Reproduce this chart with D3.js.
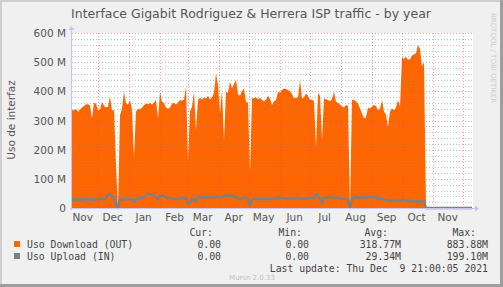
<!DOCTYPE html>
<html>
<head>
<meta charset="utf-8">
<script src="https://cdn.jsdelivr.net/npm/d3@7"></script>
<style>
  body { margin: 0; background: #f0f0f0; }
  svg text { white-space: pre; }
</style>
</head>
<body>
<div id="chart"></div>
<script>
// time span of the yearly graph (400 days, one sample every 2 days)
const startTime = Date.UTC(2020, 10, 4, 21);
const endTime = Date.UTC(2021, 11, 9, 21);
const stepDays = 2;

// Uso Download (OUT), in M
const download = [
  335, 335, 340, 330, 338, 345, 350, 356, 356, 352,
  307, 360, 358, 335, 338, 364, 350, 345, 347, 382,
  335, 335, 150, 0, 318, 340, 399, 358, 355, 370,
  335, 175, 330, 341, 338, 345, 352, 358, 356, 360,
  355, 362, 370, 307, 399, 364, 360, 345, 340, 345,
  358, 360, 355, 362, 370, 368, 372, 416, 163, 330,
  347, 399, 267, 370, 378, 372, 380, 375, 385, 372,
  380, 395, 462, 422, 324, 405, 232, 399, 395, 433,
  410, 425, 439, 390, 385, 400, 410, 364, 360, 117,
  376, 376, 380, 372, 378, 370, 365, 372, 385, 375,
  353, 365, 370, 399, 395, 405, 410, 408, 405, 400,
  390, 376, 378, 380, 439, 376, 380, 393, 385, 370,
  372, 365, 209, 393, 385, 232, 376, 372, 370, 365,
  375, 399, 364, 360, 355, 347, 345, 353, 350, 0,
  370, 370, 365, 358, 340, 324, 307, 310, 345, 341,
  347, 353, 350, 335, 340, 370, 330, 320, 278, 330,
  341, 335, 345, 370, 347, 515, 512, 518, 508, 510,
  522, 528, 530, 560, 545, 485, 500, 0, 0, 0,
  0, 0, 0, 0, 0, 0, 0, 0, 0, 0,
  0, 0, 0, 0, 0, 0, 0, 0, 0, 0
];

// Uso Upload (IN), in M
const upload = [
  30, 29, 31, 28, 30, 32, 30, 29, 31, 28,
  30, 31, 29, 30, 32, 31, 30, 35, 45, 47,
  40, 33, 10, 0, 28, 30, 29, 31, 30, 30,
  29, 20, 30, 31, 33, 35, 38, 45, 48, 47,
  46, 44, 38, 30, 40, 43, 41, 38, 33, 34,
  31, 30, 31, 32, 33, 34, 33, 35, 14, 18,
  30, 31, 20, 36, 37, 38, 37, 36, 38, 37,
  37, 36, 38, 39, 37, 36, 42, 43, 42, 41,
  42, 40, 38, 30, 31, 33, 35, 32, 30, 8,
  28, 31, 31, 30, 32, 31, 30, 31, 32, 31,
  30, 32, 35, 36, 35, 34, 33, 32, 31, 33,
  32, 31, 34, 33, 35, 32, 30, 31, 33, 35,
  34, 33, 47, 48, 30, 17, 35, 34, 37, 38,
  38, 36, 35, 34, 33, 33, 32, 31, 28, 0,
  30, 36, 37, 37, 36, 37, 36, 35, 37, 37,
  38, 37, 36, 33, 31, 30, 30, 27, 26, 25,
  25, 24, 26, 25, 24, 27, 28, 26, 24, 23,
  24, 23, 22, 24, 23, 22, 22, 0, 0, 0,
  0, 0, 0, 0, 0, 0, 0, 0, 0, 0,
  0, 0, 0, 0, 0, 0, 0, 0, 0, 0
];

const yMajor = [0, 100, 200, 300, 400, 500, 600];
const yMinor = [20, 40, 60, 80, 120, 140, 160, 180, 220, 240, 260, 280,
                320, 340, 360, 380, 420, 440, 460, 480, 520, 540, 560, 580];

const seriesNames = ["Uso Download (OUT)", "Uso Upload (IN)"];
const curValues = ["0.00", "0.00"];
const minValues = ["0.00", "0.00"];
const avgValues = ["318.77M", "29.34M"];
const maxValues = ["883.88M", "199.10M"];
const lastUpdate = "Last update: Thu Dec  9 21:00:05 2021";

const width = 503, height = 287;
const pLeft = 72, pRight = 472, pTop = 33, pBottom = 208;
const colors = ["#ff6600", "#7f7f7f"];
const day = 86400000;

const x = d3.scaleUtc().domain([startTime, endTime]).range([pLeft, pRight]);
const y = d3.scaleLinear().domain([0, 600]).range([pBottom, pTop]);

const dlPts = download.map((v, i) => [startTime + i * stepDays * day, v]);
dlPts.push([endTime, 0]);
const ulPts = upload.map((v, i) => [startTime + i * stepDays * day, v]);
ulPts.push([endTime, 0]);

const svg = d3.select("#chart").append("svg")
  .attr("width", width)
  .attr("height", height)
  .style("display", "block");

// canvas and frame
svg.append("rect").attr("width", width).attr("height", height).attr("fill", "#f0f0f0");
svg.append("rect").attr("x", 0).attr("y", 0).attr("width", width).attr("height", 2).attr("fill", "#cfcfcf");
svg.append("rect").attr("x", 0).attr("y", 0).attr("width", 2).attr("height", height).attr("fill", "#cfcfcf");
svg.append("rect").attr("x", width - 3).attr("y", 0).attr("width", 3).attr("height", height).attr("fill", "#9e9e9e");
svg.append("rect").attr("x", 0).attr("y", height - 3).attr("width", width).attr("height", 3).attr("fill", "#9e9e9e");

svg.append("rect")
  .attr("x", pLeft).attr("y", pTop)
  .attr("width", pRight - pLeft + 1).attr("height", pBottom - pTop)
  .attr("fill", "#fff");

// data
svg.append("path")
  .datum(dlPts)
  .attr("fill", colors[0])
  .attr("d", d3.area().x(d => x(d[0])).y0(y(0)).y1(d => y(d[1])));

// grid (drawn over the data like rrdtool does)
const grid = svg.append("g").attr("shape-rendering", "crispEdges");
grid.selectAll(".minor").data(yMinor).join("line")
  .attr("x1", pLeft).attr("x2", pRight + 1)
  .attr("y1", d => Math.round(y(d)) + 0.5).attr("y2", d => Math.round(y(d)) + 0.5)
  .attr("stroke", "rgba(130,130,130,0.45)")
  .attr("stroke-dasharray", "1,2");
grid.selectAll(".major").data(yMajor.slice(1)).join("line")
  .attr("x1", pLeft).attr("x2", pRight + 1)
  .attr("y1", d => Math.round(y(d)) + 0.5).attr("y2", d => Math.round(y(d)) + 0.5)
  .attr("stroke", "rgba(235,70,70,0.5)")
  .attr("stroke-dasharray", "1,2");

const months = d3.utcMonth.range(startTime, endTime);
grid.selectAll(".vgrid").data(months).join("line")
  .attr("x1", d => Math.round(x(d)) + 0.5).attr("x2", d => Math.round(x(d)) + 0.5)
  .attr("y1", pTop).attr("y2", pBottom + 2)
  .attr("stroke", "rgba(235,70,70,0.5)")
  .attr("stroke-dasharray", "1,2");

svg.append("path")
  .datum(ulPts)
  .attr("fill", "none")
  .attr("stroke", colors[1])
  .attr("stroke-width", 2.5)
  .attr("stroke-linejoin", "round")
  .attr("d", d3.line().x(d => x(d[0])).y(d => y(d[1])));

// axes
const axisColor = "#c4c4f2";
svg.append("line").attr("x1", pLeft - 0.5).attr("x2", pLeft - 0.5)
  .attr("y1", pBottom + 2).attr("y2", pTop - 5).attr("stroke", axisColor);
svg.append("path").attr("d", `M${pLeft - 3.5},${pTop - 3} L${pLeft - 0.5},${pTop - 7} L${pLeft + 2.5},${pTop - 3} Z`)
  .attr("fill", axisColor);
svg.append("line").attr("x1", pLeft - 2).attr("x2", pRight + 3)
  .attr("y1", pBottom + 0.5).attr("y2", pBottom + 0.5).attr("stroke", axisColor);
svg.append("path").attr("d", `M${pRight + 3},${pBottom - 2.5} L${pRight + 7},${pBottom + 0.5} L${pRight + 3},${pBottom + 3.5} Z`)
  .attr("fill", axisColor);

const font = "DejaVu Sans, sans-serif";
const mono = "DejaVu Sans Mono, monospace";
const textColor = "#555";

svg.selectAll(".ylab").data(yMajor).join("text")
  .attr("x", 66).attr("y", d => y(d) + 4)
  .attr("text-anchor", "end")
  .attr("font-family", font).attr("font-size", 10.5)
  .attr("fill", textColor)
  .text(d => d === 0 ? "0" : d + " M");

const labelMonths = d3.utcMonth.range(Date.UTC(2020, 10, 1), endTime)
  .filter(d => x(d3.utcDay.offset(d, 15)) < pRight);
svg.selectAll(".xlab").data(labelMonths).join("text")
  .attr("x", d => x(d3.utcDay.offset(d, 15)) - 0.5)
  .attr("y", 221)
  .attr("text-anchor", "middle")
  .attr("font-family", font).attr("font-size", 10.5)
  .attr("fill", textColor)
  .text(d => d3.utcFormat("%b")(d));

// title and side texts
svg.append("text")
  .attr("x", 251).attr("y", 18)
  .attr("text-anchor", "middle")
  .attr("font-family", font).attr("font-size", 12.5)
  .attr("fill", textColor)
  .text("Interface Gigabit Rodriguez & Herrera ISP traffic - by year");

svg.append("text")
  .attr("transform", "translate(15,120) rotate(-90)")
  .attr("text-anchor", "middle")
  .attr("font-family", font).attr("font-size", 10.5)
  .attr("fill", textColor)
  .text("Uso de interfaz");

svg.append("text")
  .attr("transform", "translate(491,13) rotate(90)")
  .attr("font-family", font).attr("font-size", 7)
  .attr("fill", "#ccc")
  .text("RRDTOOL / TOBI OETIKER");

// legend
const legend = svg.append("g")
  .attr("font-family", mono).attr("font-size", 9.8)
  .attr("fill", "#444");

const headers = ["Cur:", "Min:", "Avg:", "Max:"];
const headerX = [213, 302, 388, 476];
legend.selectAll(".hdr").data(headers).join("text")
  .attr("x", (d, i) => headerX[i]).attr("y", 236)
  .attr("text-anchor", "end")
  .text(d => d);

const valueX = [221, 309, 401, 488];
seriesNames.forEach((name, r) => {
  const ry = 248 + r * 12;
  legend.append("rect")
    .attr("x", 14).attr("y", ry - 7)
    .attr("width", 6).attr("height", 6)
    .attr("fill", colors[r]);
  legend.append("text").attr("x", 27).attr("y", ry).text(name);
  [curValues[r], minValues[r], avgValues[r], maxValues[r]].forEach((v, c) => {
    legend.append("text")
      .attr("x", valueX[c]).attr("y", ry)
      .attr("text-anchor", "end")
      .text(v);
  });
});

legend.append("text")
  .attr("x", 488).attr("y", 272)
  .attr("text-anchor", "end")
  .text(lastUpdate);

svg.append("text")
  .attr("x", 252).attr("y", 280)
  .attr("text-anchor", "middle")
  .attr("font-family", font).attr("font-size", 7)
  .attr("fill", "#c0c0c0")
  .text("Munin 2.0.33");
</script>
</body>
</html>
